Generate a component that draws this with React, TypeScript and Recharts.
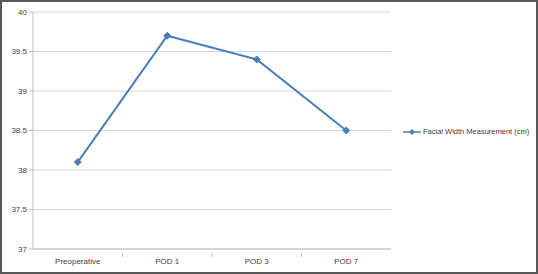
import { LineChart, Line, XAxis, YAxis, CartesianGrid } from 'recharts';

const categories = ['Preoperative', 'POD 1', 'POD 3', 'POD 7'];
const facialWidth = [38.1, 39.7, 39.4, 38.5];
const yTicks = [37, 37.5, 38, 38.5, 39, 39.5, 40];

const seriesName = 'Facial Width Measurement (cm)';
const blue = '#4a7ebb';
const font = '"Liberation Sans", Arial, sans-serif';

const data = categories.map((c, i) => ({ name: c, value: facialWidth[i] }));

function Diamond(props: any) {
  const { cx, cy } = props;
  if (cx == null || cy == null) return null;
  const r = 3.5;
  return (
    <polygon
      points={`${cx},${cy - r} ${cx + r},${cy} ${cx},${cy + r} ${cx - r},${cy}`}
      fill={blue}
      stroke={blue}
    />
  );
}

function XTick(props: any) {
  const { x, y, payload, index } = props;
  const half = payload?.offset ?? 44.75;
  return (
    <g>
      {index > 0 && (
        <line x1={x - half} x2={x - half} y1={y - 4} y2={y} stroke="#bfbfbf" />
      )}
      <text x={x} y={y + 7} textAnchor="middle" fontSize={8} fill="#404040" fontFamily={font}>
        {payload.value}
      </text>
    </g>
  );
}

// legend sits to the right of the plot, like the Excel original
function ChartLegend() {
  return (
    <div
      style={{
        position: 'absolute',
        left: 403,
        top: 127,
        display: 'flex',
        alignItems: 'center',
        fontFamily: font,
        fontSize: 7.5,
        color: '#404040',
        whiteSpace: 'nowrap',
      }}
    >
      <svg width={18} height={8} style={{ marginRight: 2 }}>
        <line x1={0} x2={18} y1={4} y2={4} stroke={blue} strokeWidth={1.5} />
        <polygon points="9,1 12,4 9,7 6,4" fill={blue} />
      </svg>
      <span>{seriesName}</span>
    </div>
  );
}

export default function App() {
  return (
    <div style={{ position: 'relative', width: 538, height: 274, background: '#fff' }}>
      <style>{'body{margin:0}'}</style>
      <LineChart
        width={538}
        height={274}
        data={data}
        margin={{ top: 12, right: 147, bottom: 0, left: 0 }}
      >
        <CartesianGrid vertical={false} stroke="#d9d9d9" />
        <XAxis
          dataKey="name"
          scale="band"
          height={25}
          stroke="#bfbfbf"
          tickLine={false}
          tick={<XTick />}
          interval={0}
        />
        <YAxis
          width={33}
          domain={[37, 40]}
          ticks={yTicks}
          stroke="#bfbfbf"
          tickSize={4}
          tick={{ fontSize: 8, fill: '#404040', fontFamily: font }}
        />
        <Line
          type="linear"
          dataKey="value"
          name={seriesName}
          stroke={blue}
          strokeWidth={2}
          dot={<Diamond />}
          activeDot={false}
          isAnimationActive={false}
        />
      </LineChart>
      <ChartLegend />
      <div
        style={{
          position: 'absolute',
          left: 0,
          top: 0,
          width: 538,
          height: 274,
          boxSizing: 'border-box',
          border: '2px solid #595959',
          pointerEvents: 'none',
        }}
      />
    </div>
  );
}
